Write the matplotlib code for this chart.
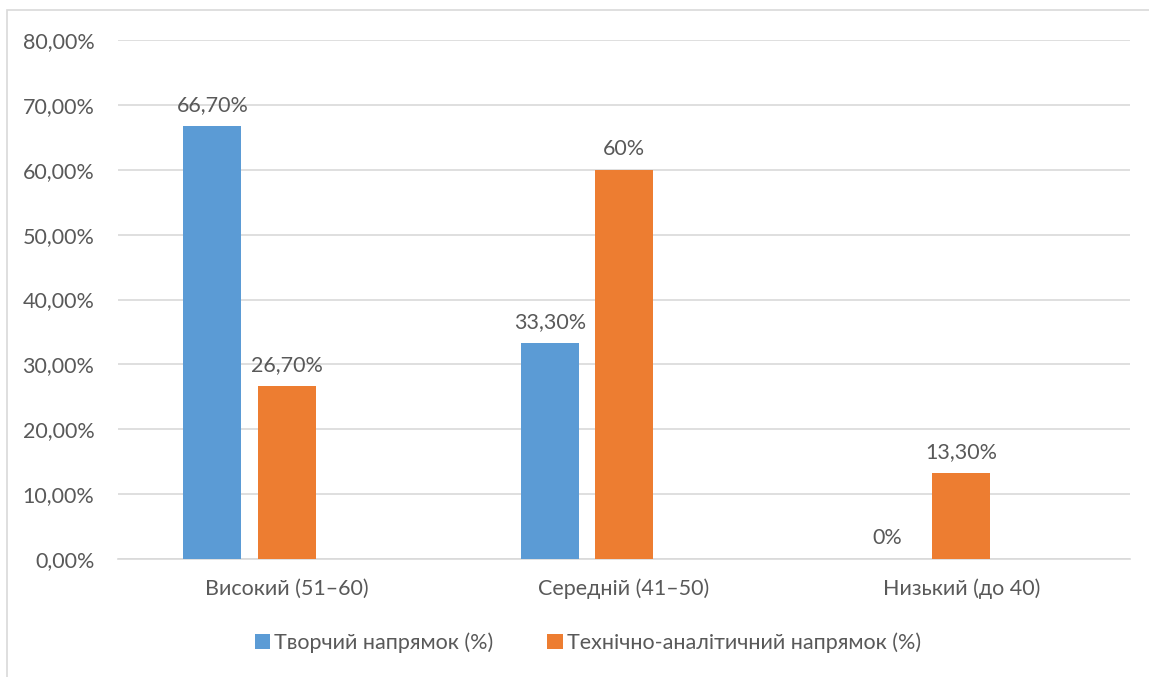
import matplotlib
matplotlib.use("Agg")
import matplotlib.pyplot as plt
from matplotlib.patches import Rectangle
from matplotlib.ticker import FuncFormatter

categories = ["Високий (51–60)", "Середній (41–50)", "Низький (до 40)"]
creative = [66.7, 33.3, 0.0]
technical = [26.7, 60.0, 13.3]
creative_labels = ["66,70%", "33,30%", "0%"]
technical_labels = ["26,70%", "60%", "13,30%"]
series_names = ["Творчий напрямок (%)", "Технічно-аналітичний напрямок (%)"]
yticks = [0, 10, 20, 30, 40, 50, 60, 70, 80]

plt.rcParams['font.family'] = ['Lato', 'DejaVu Sans']
TXT = '#595959'
BLUE = '#5B9BD5'
ORANGE = '#ED7D31'
FS = 15.5

W, H = 1149, 677
fig = plt.figure(figsize=(W / 100, H / 100), dpi=100)
ax = fig.add_axes([118 / W, 1 - 559 / H, (1130 - 118) / W, (559 - 40) / H])

x = list(range(len(categories)))
bw = 0.172
step = 0.22
bx1 = [i - step for i in x]
bx2 = [i for i in x]
ax.bar(bx1, creative, width=bw, color=BLUE, label=series_names[0], zorder=3)
ax.bar(bx2, technical, width=bw, color=ORANGE, label=series_names[1], zorder=3)

for xi, v, lab in zip(bx1, creative, creative_labels):
    ax.annotate(lab, (xi, v), xytext=(0, 8), textcoords='offset points',
                ha='center', va='bottom', fontsize=FS, color=TXT)
for xi, v, lab in zip(bx2, technical, technical_labels):
    ax.annotate(lab, (xi, v), xytext=(0, 8), textcoords='offset points',
                ha='center', va='bottom', fontsize=FS, color=TXT)

ax.set_xlim(-0.5, 2.5)
ax.set_ylim(0, 80)
ax.set_yticks(yticks)
ax.yaxis.set_major_formatter(FuncFormatter(lambda v, p: f"{v:.2f}".replace('.', ',') + '%'))
ax.set_xticks(x)
ax.set_xticklabels(categories)
ax.tick_params(axis='both', length=0, labelsize=FS, colors=TXT)
ax.tick_params(axis='y', pad=17)
ax.tick_params(axis='x', pad=14)
ax.grid(axis='y', color='#d9d9d9', linewidth=1.2, zorder=0)
for s in ['top', 'right', 'left']:
    ax.spines[s].set_visible(False)
ax.spines['bottom'].set_color('#d9d9d9')
ax.spines['bottom'].set_linewidth(1.2)

leg = fig.legend(loc='center', bbox_to_anchor=(588 / W, 1 - 643 / H), ncol=2,
                 frameon=False, fontsize=FS, handlelength=0.7, handleheight=0.7,
                 handletextpad=0.2, columnspacing=2.5)
for t in leg.get_texts():
    t.set_color(TXT)

fig.patches.append(Rectangle((7 / W, -0.1), 1.2, 1 - 10 / H + 0.1, transform=fig.transFigure,
                             fill=False, edgecolor='#d9d9d9', linewidth=1.2))

fig.savefig('out.png', dpi=100)
